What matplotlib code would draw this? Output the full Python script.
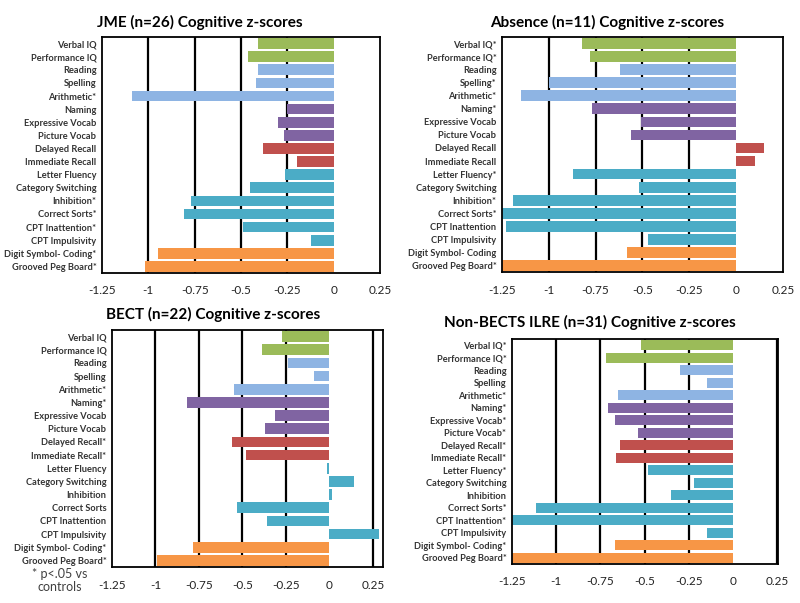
import matplotlib
matplotlib.use('Agg')
import matplotlib.pyplot as plt

plt.rcParams['font.family'] = ['Lato', 'DejaVu Sans']

# measures, top to bottom
measures = ['Verbal IQ', 'Performance IQ', 'Reading', 'Spelling', 'Arithmetic',
            'Naming', 'Expressive Vocab', 'Picture Vocab', 'Delayed Recall',
            'Immediate Recall', 'Letter Fluency', 'Category Switching', 'Inhibition',
            'Correct Sorts', 'CPT Inattention', 'CPT Impulsivity',
            'Digit Symbol- Coding', 'Grooved Peg Board']

# colour group of each measure
groups = ['iq', 'iq', 'ach', 'ach', 'ach', 'lang', 'lang', 'lang', 'mem', 'mem',
          'exec', 'exec', 'exec', 'exec', 'exec', 'exec', 'motor', 'motor']
group_colors = {'iq': '#9BBB59', 'ach': '#8EB4E3', 'lang': '#8064A2',
                'mem': '#C0504D', 'exec': '#4BACC6', 'motor': '#F79646'}

jme_vals = [-0.41, -0.46, -0.41, -0.42, -1.09, -0.25, -0.30, -0.27, -0.38, -0.20,
            -0.26, -0.45, -0.77, -0.81, -0.49, -0.12, -0.95, -1.02]
jme_sig = [0, 0, 0, 0, 1, 0, 0, 0, 0, 0, 0, 0, 1, 1, 1, 0, 1, 1]

absence_vals = [-0.82, -0.78, -0.62, -1.00, -1.15, -0.77, -0.51, -0.56, 0.15, 0.10,
                -0.87, -0.52, -1.19, -1.25, -1.23, -0.47, -0.58, -1.25]
absence_sig = [1, 1, 0, 1, 1, 1, 0, 0, 0, 0, 1, 0, 1, 1, 0, 0, 0, 1]

bect_vals = [-0.27, -0.39, -0.24, -0.09, -0.55, -0.82, -0.31, -0.37, -0.56, -0.48,
             -0.015, 0.14, 0.013, -0.53, -0.36, 0.285, -0.785, -0.99]
bect_sig = [0, 0, 0, 0, 1, 1, 0, 0, 1, 1, 0, 0, 0, 0, 0, 0, 1, 1]

ilre_vals = [-0.52, -0.72, -0.30, -0.15, -0.65, -0.71, -0.67, -0.54, -0.64, -0.66,
             -0.48, -0.22, -0.35, -1.115, -1.25, -0.15, -0.67, -1.25]
ilre_sig = [1, 1, 0, 0, 1, 1, 1, 1, 1, 1, 1, 0, 0, 1, 1, 0, 1, 1]

ticks = [-1.25, -1, -0.75, -0.5, -0.25, 0, 0.25]
tick_labels = ['-1.25', '-1', '-0.75', '-0.5', '-0.25', '0', '0.25']


def draw_panel(ax, vals, sig, xmax):
    ypos = list(range(len(measures)))
    cols = [group_colors[g] for g in groups]
    for t in ticks:
        if t != 0 and -1.25 < t < xmax:
            ax.axvline(t, color='black', lw=1.6, zorder=1)
    ax.barh(ypos, vals, height=0.82, color=cols, zorder=2)
    ax.set_xlim(-1.25, xmax)
    ax.set_ylim(len(measures) - 0.5, -0.5)
    ax.set_yticks(ypos)
    ax.set_yticklabels([m + ('*' if s else '') for m, s in zip(measures, sig)],
                       fontsize=6.7, fontweight='bold', color='#333333')
    ax.set_xticks(ticks)
    ax.set_xticklabels(tick_labels, fontsize=8.5, color='#222222')
    ax.tick_params(length=0, axis='x', pad=9)
    ax.tick_params(length=0, axis='y', pad=4)
    for s in ax.spines.values():
        s.set_linewidth(1.3)
        s.set_color('black')


fig = plt.figure(figsize=(8, 6.03), dpi=100)

ax1 = fig.add_axes([0.1275, 0.5473, 0.3475, 0.3913])
draw_panel(ax1, jme_vals, jme_sig, 0.25)
ax2 = fig.add_axes([0.6275, 0.5489, 0.351, 0.3897])
draw_panel(ax2, absence_vals, absence_sig, 0.25)
ax3 = fig.add_axes([0.14, 0.0597, 0.339, 0.393])
draw_panel(ax3, bect_vals, bect_sig, 0.31)
ax4 = fig.add_axes([0.64, 0.0647, 0.3325, 0.373])
draw_panel(ax4, ilre_vals, ilre_sig, 0.254)

fig.text(0.25, 0.962, 'JME (n=26) Cognitive z-scores', ha='center', va='center',
         fontsize=11, fontweight='bold')
fig.text(0.759, 0.962, 'Absence (n=11) Cognitive z-scores', ha='center', va='center',
         fontsize=11, fontweight='bold')
fig.text(0.266, 0.478, 'BECT (n=22) Cognitive z-scores', ha='center', va='center',
         fontsize=11, fontweight='bold')
fig.text(0.7375, 0.466, 'Non-BECTS ILRE (n=31) Cognitive z-scores', ha='center',
         va='center', fontsize=11, fontweight='bold')

fig.text(0.075, 0.038, '* p<.05 vs\ncontrols', ha='center', va='center',
         fontsize=9, color='#404040', linespacing=1.1)

fig.savefig('out.png', dpi=100)
